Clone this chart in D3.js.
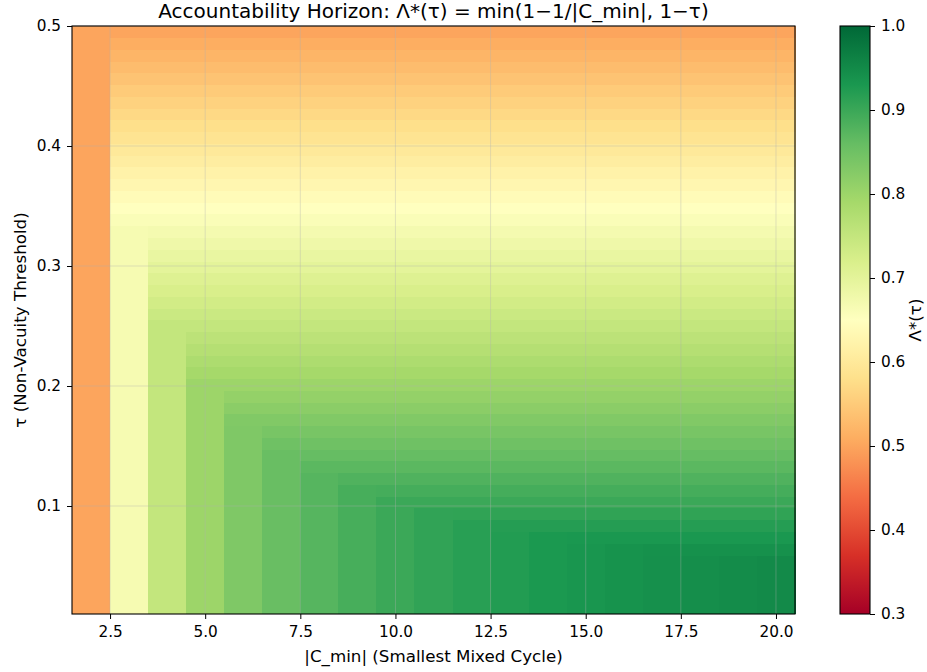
<!DOCTYPE html>
<html>
<head>
<meta charset="utf-8">
<script src="https://cdn.jsdelivr.net/npm/d3@7"></script>
<style>
    body { margin: 0; background: #ffffff; }
    text { font-family: "DejaVu Sans", sans-serif; fill: #000000; }
</style>
</head>
<body>
<div id="dataviz"></div>
<script>
"use strict";

// |C_min| values (columns)
var cValues = [2, 3, 4, 5, 6, 7, 8, 9, 10, 11, 12, 13, 14, 15, 16, 17, 18, 19, 20];

// tau values (rows, bottom to top)
var tauValues = [0.01, 0.02, 0.03, 0.04, 0.05, 0.06, 0.07, 0.08, 0.09, 0.10,
                 0.11, 0.12, 0.13, 0.14, 0.15, 0.16, 0.17, 0.18, 0.19, 0.20,
                 0.21, 0.22, 0.23, 0.24, 0.25, 0.26, 0.27, 0.28, 0.29, 0.30,
                 0.31, 0.32, 0.33, 0.34, 0.35, 0.36, 0.37, 0.38, 0.39, 0.40,
                 0.41, 0.42, 0.43, 0.44, 0.45, 0.46, 0.47, 0.48, 0.49, 0.50];

// Lambda*(tau), one row per tau (same order as tauValues)
var lambdaRows = [
    [0.5, 0.667, 0.75, 0.8, 0.833, 0.857, 0.875, 0.889, 0.9, 0.909, 0.917, 0.923, 0.929, 0.933, 0.938, 0.941, 0.944, 0.947, 0.95],
    [0.5, 0.667, 0.75, 0.8, 0.833, 0.857, 0.875, 0.889, 0.9, 0.909, 0.917, 0.923, 0.929, 0.933, 0.938, 0.941, 0.944, 0.947, 0.95],
    [0.5, 0.667, 0.75, 0.8, 0.833, 0.857, 0.875, 0.889, 0.9, 0.909, 0.917, 0.923, 0.929, 0.933, 0.938, 0.941, 0.944, 0.947, 0.95],
    [0.5, 0.667, 0.75, 0.8, 0.833, 0.857, 0.875, 0.889, 0.9, 0.909, 0.917, 0.923, 0.929, 0.933, 0.938, 0.941, 0.944, 0.947, 0.95],
    [0.5, 0.667, 0.75, 0.8, 0.833, 0.857, 0.875, 0.889, 0.9, 0.909, 0.917, 0.923, 0.929, 0.933, 0.938, 0.941, 0.944, 0.947, 0.95],
    [0.5, 0.667, 0.75, 0.8, 0.833, 0.857, 0.875, 0.889, 0.9, 0.909, 0.917, 0.923, 0.929, 0.933, 0.938, 0.94, 0.94, 0.94, 0.94],
    [0.5, 0.667, 0.75, 0.8, 0.833, 0.857, 0.875, 0.889, 0.9, 0.909, 0.917, 0.923, 0.929, 0.93, 0.93, 0.93, 0.93, 0.93, 0.93],
    [0.5, 0.667, 0.75, 0.8, 0.833, 0.857, 0.875, 0.889, 0.9, 0.909, 0.917, 0.92, 0.92, 0.92, 0.92, 0.92, 0.92, 0.92, 0.92],
    [0.5, 0.667, 0.75, 0.8, 0.833, 0.857, 0.875, 0.889, 0.9, 0.909, 0.91, 0.91, 0.91, 0.91, 0.91, 0.91, 0.91, 0.91, 0.91],
    [0.5, 0.667, 0.75, 0.8, 0.833, 0.857, 0.875, 0.889, 0.9, 0.9, 0.9, 0.9, 0.9, 0.9, 0.9, 0.9, 0.9, 0.9, 0.9],
    [0.5, 0.667, 0.75, 0.8, 0.833, 0.857, 0.875, 0.889, 0.89, 0.89, 0.89, 0.89, 0.89, 0.89, 0.89, 0.89, 0.89, 0.89, 0.89],
    [0.5, 0.667, 0.75, 0.8, 0.833, 0.857, 0.875, 0.88, 0.88, 0.88, 0.88, 0.88, 0.88, 0.88, 0.88, 0.88, 0.88, 0.88, 0.88],
    [0.5, 0.667, 0.75, 0.8, 0.833, 0.857, 0.87, 0.87, 0.87, 0.87, 0.87, 0.87, 0.87, 0.87, 0.87, 0.87, 0.87, 0.87, 0.87],
    [0.5, 0.667, 0.75, 0.8, 0.833, 0.857, 0.86, 0.86, 0.86, 0.86, 0.86, 0.86, 0.86, 0.86, 0.86, 0.86, 0.86, 0.86, 0.86],
    [0.5, 0.667, 0.75, 0.8, 0.833, 0.85, 0.85, 0.85, 0.85, 0.85, 0.85, 0.85, 0.85, 0.85, 0.85, 0.85, 0.85, 0.85, 0.85],
    [0.5, 0.667, 0.75, 0.8, 0.833, 0.84, 0.84, 0.84, 0.84, 0.84, 0.84, 0.84, 0.84, 0.84, 0.84, 0.84, 0.84, 0.84, 0.84],
    [0.5, 0.667, 0.75, 0.8, 0.83, 0.83, 0.83, 0.83, 0.83, 0.83, 0.83, 0.83, 0.83, 0.83, 0.83, 0.83, 0.83, 0.83, 0.83],
    [0.5, 0.667, 0.75, 0.8, 0.82, 0.82, 0.82, 0.82, 0.82, 0.82, 0.82, 0.82, 0.82, 0.82, 0.82, 0.82, 0.82, 0.82, 0.82],
    [0.5, 0.667, 0.75, 0.8, 0.81, 0.81, 0.81, 0.81, 0.81, 0.81, 0.81, 0.81, 0.81, 0.81, 0.81, 0.81, 0.81, 0.81, 0.81],
    [0.5, 0.667, 0.75, 0.8, 0.8, 0.8, 0.8, 0.8, 0.8, 0.8, 0.8, 0.8, 0.8, 0.8, 0.8, 0.8, 0.8, 0.8, 0.8],
    [0.5, 0.667, 0.75, 0.79, 0.79, 0.79, 0.79, 0.79, 0.79, 0.79, 0.79, 0.79, 0.79, 0.79, 0.79, 0.79, 0.79, 0.79, 0.79],
    [0.5, 0.667, 0.75, 0.78, 0.78, 0.78, 0.78, 0.78, 0.78, 0.78, 0.78, 0.78, 0.78, 0.78, 0.78, 0.78, 0.78, 0.78, 0.78],
    [0.5, 0.667, 0.75, 0.77, 0.77, 0.77, 0.77, 0.77, 0.77, 0.77, 0.77, 0.77, 0.77, 0.77, 0.77, 0.77, 0.77, 0.77, 0.77],
    [0.5, 0.667, 0.75, 0.76, 0.76, 0.76, 0.76, 0.76, 0.76, 0.76, 0.76, 0.76, 0.76, 0.76, 0.76, 0.76, 0.76, 0.76, 0.76],
    [0.5, 0.667, 0.75, 0.75, 0.75, 0.75, 0.75, 0.75, 0.75, 0.75, 0.75, 0.75, 0.75, 0.75, 0.75, 0.75, 0.75, 0.75, 0.75],
    [0.5, 0.667, 0.74, 0.74, 0.74, 0.74, 0.74, 0.74, 0.74, 0.74, 0.74, 0.74, 0.74, 0.74, 0.74, 0.74, 0.74, 0.74, 0.74],
    [0.5, 0.667, 0.73, 0.73, 0.73, 0.73, 0.73, 0.73, 0.73, 0.73, 0.73, 0.73, 0.73, 0.73, 0.73, 0.73, 0.73, 0.73, 0.73],
    [0.5, 0.667, 0.72, 0.72, 0.72, 0.72, 0.72, 0.72, 0.72, 0.72, 0.72, 0.72, 0.72, 0.72, 0.72, 0.72, 0.72, 0.72, 0.72],
    [0.5, 0.667, 0.71, 0.71, 0.71, 0.71, 0.71, 0.71, 0.71, 0.71, 0.71, 0.71, 0.71, 0.71, 0.71, 0.71, 0.71, 0.71, 0.71],
    [0.5, 0.667, 0.7, 0.7, 0.7, 0.7, 0.7, 0.7, 0.7, 0.7, 0.7, 0.7, 0.7, 0.7, 0.7, 0.7, 0.7, 0.7, 0.7],
    [0.5, 0.667, 0.69, 0.69, 0.69, 0.69, 0.69, 0.69, 0.69, 0.69, 0.69, 0.69, 0.69, 0.69, 0.69, 0.69, 0.69, 0.69, 0.69],
    [0.5, 0.667, 0.68, 0.68, 0.68, 0.68, 0.68, 0.68, 0.68, 0.68, 0.68, 0.68, 0.68, 0.68, 0.68, 0.68, 0.68, 0.68, 0.68],
    [0.5, 0.667, 0.67, 0.67, 0.67, 0.67, 0.67, 0.67, 0.67, 0.67, 0.67, 0.67, 0.67, 0.67, 0.67, 0.67, 0.67, 0.67, 0.67],
    [0.5, 0.66, 0.66, 0.66, 0.66, 0.66, 0.66, 0.66, 0.66, 0.66, 0.66, 0.66, 0.66, 0.66, 0.66, 0.66, 0.66, 0.66, 0.66],
    [0.5, 0.65, 0.65, 0.65, 0.65, 0.65, 0.65, 0.65, 0.65, 0.65, 0.65, 0.65, 0.65, 0.65, 0.65, 0.65, 0.65, 0.65, 0.65],
    [0.5, 0.64, 0.64, 0.64, 0.64, 0.64, 0.64, 0.64, 0.64, 0.64, 0.64, 0.64, 0.64, 0.64, 0.64, 0.64, 0.64, 0.64, 0.64],
    [0.5, 0.63, 0.63, 0.63, 0.63, 0.63, 0.63, 0.63, 0.63, 0.63, 0.63, 0.63, 0.63, 0.63, 0.63, 0.63, 0.63, 0.63, 0.63],
    [0.5, 0.62, 0.62, 0.62, 0.62, 0.62, 0.62, 0.62, 0.62, 0.62, 0.62, 0.62, 0.62, 0.62, 0.62, 0.62, 0.62, 0.62, 0.62],
    [0.5, 0.61, 0.61, 0.61, 0.61, 0.61, 0.61, 0.61, 0.61, 0.61, 0.61, 0.61, 0.61, 0.61, 0.61, 0.61, 0.61, 0.61, 0.61],
    [0.5, 0.6, 0.6, 0.6, 0.6, 0.6, 0.6, 0.6, 0.6, 0.6, 0.6, 0.6, 0.6, 0.6, 0.6, 0.6, 0.6, 0.6, 0.6],
    [0.5, 0.59, 0.59, 0.59, 0.59, 0.59, 0.59, 0.59, 0.59, 0.59, 0.59, 0.59, 0.59, 0.59, 0.59, 0.59, 0.59, 0.59, 0.59],
    [0.5, 0.58, 0.58, 0.58, 0.58, 0.58, 0.58, 0.58, 0.58, 0.58, 0.58, 0.58, 0.58, 0.58, 0.58, 0.58, 0.58, 0.58, 0.58],
    [0.5, 0.57, 0.57, 0.57, 0.57, 0.57, 0.57, 0.57, 0.57, 0.57, 0.57, 0.57, 0.57, 0.57, 0.57, 0.57, 0.57, 0.57, 0.57],
    [0.5, 0.56, 0.56, 0.56, 0.56, 0.56, 0.56, 0.56, 0.56, 0.56, 0.56, 0.56, 0.56, 0.56, 0.56, 0.56, 0.56, 0.56, 0.56],
    [0.5, 0.55, 0.55, 0.55, 0.55, 0.55, 0.55, 0.55, 0.55, 0.55, 0.55, 0.55, 0.55, 0.55, 0.55, 0.55, 0.55, 0.55, 0.55],
    [0.5, 0.54, 0.54, 0.54, 0.54, 0.54, 0.54, 0.54, 0.54, 0.54, 0.54, 0.54, 0.54, 0.54, 0.54, 0.54, 0.54, 0.54, 0.54],
    [0.5, 0.53, 0.53, 0.53, 0.53, 0.53, 0.53, 0.53, 0.53, 0.53, 0.53, 0.53, 0.53, 0.53, 0.53, 0.53, 0.53, 0.53, 0.53],
    [0.5, 0.52, 0.52, 0.52, 0.52, 0.52, 0.52, 0.52, 0.52, 0.52, 0.52, 0.52, 0.52, 0.52, 0.52, 0.52, 0.52, 0.52, 0.52],
    [0.5, 0.51, 0.51, 0.51, 0.51, 0.51, 0.51, 0.51, 0.51, 0.51, 0.51, 0.51, 0.51, 0.51, 0.51, 0.51, 0.51, 0.51, 0.51],
    [0.5, 0.5, 0.5, 0.5, 0.5, 0.5, 0.5, 0.5, 0.5, 0.5, 0.5, 0.5, 0.5, 0.5, 0.5, 0.5, 0.5, 0.5, 0.5]
];

// Tick values
var xTickValues = [2.5, 5.0, 7.5, 10.0, 12.5, 15.0, 17.5, 20.0];
var yTickValues = [0.1, 0.2, 0.3, 0.4, 0.5];
var cbarTickValues = [0.3, 0.4, 0.5, 0.6, 0.7, 0.8, 0.9, 1.0];

// RdYlGn (matplotlib / ColorBrewer 11 classes)
var rdYlGn = ["#a50026", "#d73027", "#f46d43", "#fdae61", "#fee08b", "#ffffbf",
              "#d9ef8b", "#a6d96a", "#66bd63", "#1a9850", "#006837"];

function renderHeatmap(){

    var W = 927, H = 672;
    var plot = { left: 72, right: 795, top: 26, bottom: 614 };
    var cbar = { left: 840, right: 870, top: 26, bottom: 614 };

    const TICK_FONT = "15.3px";
    const LABEL_FONT = "16.7px";

    var svg = d3.select("#dataviz").append("svg")
        .attr("width", W)
        .attr("height", H);

    // -----------------------------------------------------------------------
    // ------------------------------ Scales ---------------------------------
    // -----------------------------------------------------------------------
    var xScale = d3.scaleLinear().domain([1.5, 20.5]).range([plot.left, plot.right]);
    var yScale = d3.scaleLinear().domain([0.01, 0.5]).range([plot.bottom, plot.top]);

    // image cells: one band per column / row (imshow style extent)
    var xBand = d3.scaleBand().domain(cValues).range([plot.left, plot.right]);
    var yBand = d3.scaleBand().domain(tauValues).range([plot.bottom, plot.top]);

    var vMin = 0.3, vMax = 1.0;
    var colorScale = d3.scaleLinear()
        .domain(d3.range(rdYlGn.length).map(function(i){ return vMin + (vMax - vMin) * i / (rdYlGn.length - 1); }))
        .range(rdYlGn)
        .interpolate(d3.interpolateRgb)
        .clamp(true);

    // flatten rows into cells
    var cells = [];
    lambdaRows.forEach(function(row, i){
        row.forEach(function(v, j){
            cells.push({ tau: tauValues[i], c: cValues[j], v: v });
        });
    });

    // -----------------------------------------------------------------------
    // ------------------------------ Heatmap --------------------------------
    // -----------------------------------------------------------------------
    svg.append("g")
        .attr("shape-rendering", "crispEdges")
        .selectAll("rect")
        .data(cells)
        .enter().append("rect")
        .attr("x", function(d){ return xBand(d.c); })
        .attr("y", function(d){ return yBand(d.tau) - 0.3; })
        .attr("width", xBand.bandwidth() + 0.6)
        .attr("height", yBand.bandwidth() + 0.6)
        .attr("fill", function(d){ return colorScale(d.v); });

    // Grid
    var grid = svg.append("g")
        .attr("stroke", "#b0b0b0")
        .attr("stroke-opacity", 0.45)
        .attr("stroke-width", 0.8);

    grid.selectAll(".vgrid")
        .data(xTickValues)
        .enter().append("line")
        .attr("class", "vgrid")
        .attr("x1", function(d){ return xScale(d); })
        .attr("x2", function(d){ return xScale(d); })
        .attr("y1", plot.top)
        .attr("y2", plot.bottom);

    grid.selectAll(".hgrid")
        .data(yTickValues)
        .enter().append("line")
        .attr("class", "hgrid")
        .attr("x1", plot.left)
        .attr("x2", plot.right)
        .attr("y1", function(d){ return yScale(d); })
        .attr("y2", function(d){ return yScale(d); });

    // -----------------------------------------------------------------------
    // ------------------------------- Axes ----------------------------------
    // -----------------------------------------------------------------------
    var xAxis = d3.axisBottom(xScale)
        .tickValues(xTickValues)
        .tickFormat(d3.format(".1f"))
        .tickSizeOuter(0)
        .tickSize(5)
        .tickPadding(7);

    var yAxis = d3.axisLeft(yScale)
        .tickValues(yTickValues)
        .tickFormat(d3.format(".1f"))
        .tickSizeOuter(0)
        .tickSize(5)
        .tickPadding(6);

    var gx = svg.append("g")
        .attr("transform", "translate(0," + plot.bottom + ")")
        .call(xAxis);

    var gy = svg.append("g")
        .attr("transform", "translate(" + plot.left + ",0)")
        .call(yAxis);

    [gx, gy].forEach(function(g){
        g.select(".domain").remove();
        g.selectAll(".tick line").attr("stroke", "#000").attr("stroke-width", 1);
        g.selectAll(".tick text")
            .style("font-family", "DejaVu Sans, sans-serif")
            .style("font-size", TICK_FONT)
            .attr("fill", "#000");
    });

    // frame
    svg.append("rect")
        .attr("x", plot.left)
        .attr("y", plot.top)
        .attr("width", plot.right - plot.left)
        .attr("height", plot.bottom - plot.top)
        .attr("fill", "none")
        .attr("stroke", "#000")
        .attr("stroke-width", 1.1);

    // Labels
    svg.append("text")
        .attr("x", (plot.left + plot.right) / 2)
        .attr("y", 18)
        .attr("text-anchor", "middle")
        .style("font-size", "20px")
        .text("Accountability Horizon: \u039B*(\u03C4) = min(1\u22121/|C_min|, 1\u2212\u03C4)");

    svg.append("text")
        .attr("x", (plot.left + plot.right) / 2)
        .attr("y", 662)
        .attr("text-anchor", "middle")
        .style("font-size", LABEL_FONT)
        .text("|C_min| (Smallest Mixed Cycle)");

    svg.append("text")
        .attr("transform", "translate(26," + ((plot.top + plot.bottom) / 2) + ")rotate(-90)")
        .attr("text-anchor", "middle")
        .style("font-size", LABEL_FONT)
        .text("\u03C4 (Non-Vacuity Threshold)");

    // -----------------------------------------------------------------------
    // ----------------------------- Colorbar --------------------------------
    // -----------------------------------------------------------------------
    var cScale = d3.scaleLinear().domain([vMin, vMax]).range([cbar.bottom, cbar.top]);

    var grad = svg.append("defs").append("linearGradient")
        .attr("id", "cbar-grad")
        .attr("x1", 0).attr("y1", 1)
        .attr("x2", 0).attr("y2", 0);

    grad.selectAll("stop")
        .data(d3.range(0, 1.0001, 0.05))
        .enter().append("stop")
        .attr("offset", function(t){ return (t * 100) + "%"; })
        .attr("stop-color", function(t){ return colorScale(vMin + t * (vMax - vMin)); });

    svg.append("rect")
        .attr("x", cbar.left)
        .attr("y", cbar.top)
        .attr("width", cbar.right - cbar.left)
        .attr("height", cbar.bottom - cbar.top)
        .attr("fill", "url(#cbar-grad)")
        .attr("stroke", "#000")
        .attr("stroke-width", 1.1);

    var cAxis = d3.axisRight(cScale)
        .tickValues(cbarTickValues)
        .tickFormat(d3.format(".1f"))
        .tickSizeOuter(0)
        .tickSize(5)
        .tickPadding(6);

    var gc = svg.append("g")
        .attr("transform", "translate(" + cbar.right + ",0)")
        .call(cAxis);

    gc.select(".domain").remove();
    gc.selectAll(".tick line").attr("stroke", "#000").attr("stroke-width", 1);
    gc.selectAll(".tick text")
        .style("font-family", "DejaVu Sans, sans-serif")
        .style("font-size", TICK_FONT)
        .attr("fill", "#000");

    svg.append("text")
        .attr("transform", "translate(921," + ((cbar.top + cbar.bottom) / 2) + ")rotate(-90)")
        .attr("text-anchor", "middle")
        .style("font-size", LABEL_FONT)
        .text("\u039B*(\u03C4)");
}

renderHeatmap();
</script>
</body>
</html>
